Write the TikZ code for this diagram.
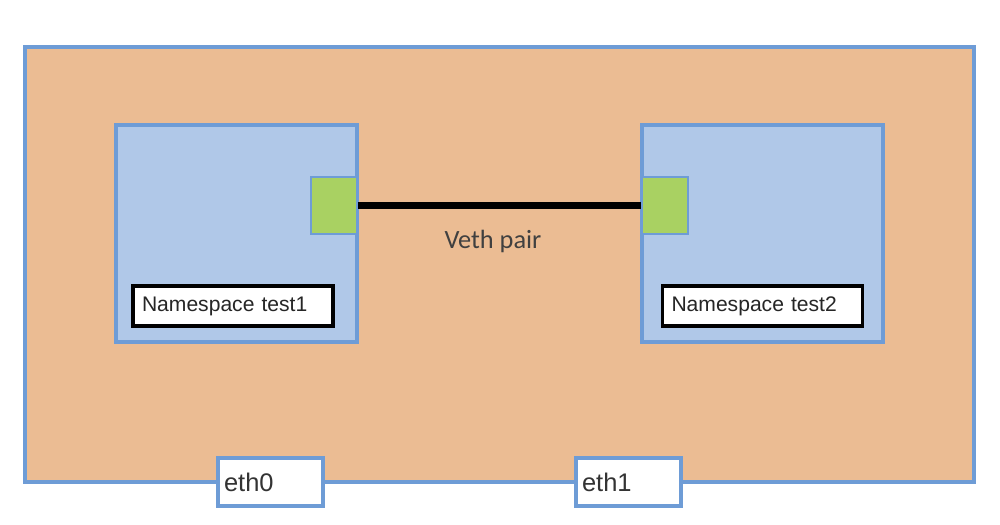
\documentclass[tikz,border=0pt]{standalone}
\usepackage{fontspec}
\setmainfont{Liberation Sans}
\newfontfamily\calfont{Carlito}
\definecolor{hostfill}{RGB}{235,188,147}
\definecolor{nsfill}{RGB}{176,200,232}
\definecolor{edgeblue}{RGB}{110,156,214}
\definecolor{vethgreen}{RGB}{169,209,98}
\tikzset{
  nsbox/.style={draw=edgeblue, fill=nsfill, line width=2pt, minimum width=48.2mm, minimum height=43.4mm, inner sep=0pt},
  vethend/.style={draw=edgeblue, fill=vethgreen, line width=1.6pt, minimum width=9.2mm, minimum height=11.4mm, inner sep=0pt},
  nslabel/.style={draw=black, fill=white, line width=2pt, text width=36.4mm, align=left, inner xsep=1.8mm, minimum height=8mm, font=\fontsize{12}{14}\selectfont, text=black!85},
  ethbox/.style={draw=edgeblue, fill=white, line width=2pt, text width=18.6mm, align=left, inner xsep=1.2mm, minimum height=9.6mm, font=\fontsize{14.5}{16}\selectfont, text=black!80}
}
\begin{document}
\begin{tikzpicture}[x=0.2mm,y=-0.2mm]
\useasboundingbox (0,0) rectangle (1000,525);
\node[draw=edgeblue, fill=hostfill, line width=2pt, minimum width=189.8mm, minimum height=87mm, inner sep=0pt] (host) at (499.5,264.5) {};
\node[nsbox] (ns1) at (236.5,233.5) {};
\node[nsbox] (ns2) at (762.5,233.5) {};
\node[vethend] (v1) at (334,205.5) {};
\node[vethend] (v2) at (665,205.5) {};
\node[nslabel] (l1) at (233,306) {Namespace test1};
\node[nslabel] (l2) at (762.5,306) {Namespace test2};
\node[ethbox] (eth0) at (270.5,482) {eth0};
\node[ethbox] (eth1) at (628.5,482) {eth1};
\path[draw,line width=4.4pt,-] (v1.east) -- (v2.west);
\node[font=\calfont\fontsize{15}{17}\selectfont, text=black!75] (veth) at (493,241) {Veth pair};
\end{tikzpicture}
\end{document}
